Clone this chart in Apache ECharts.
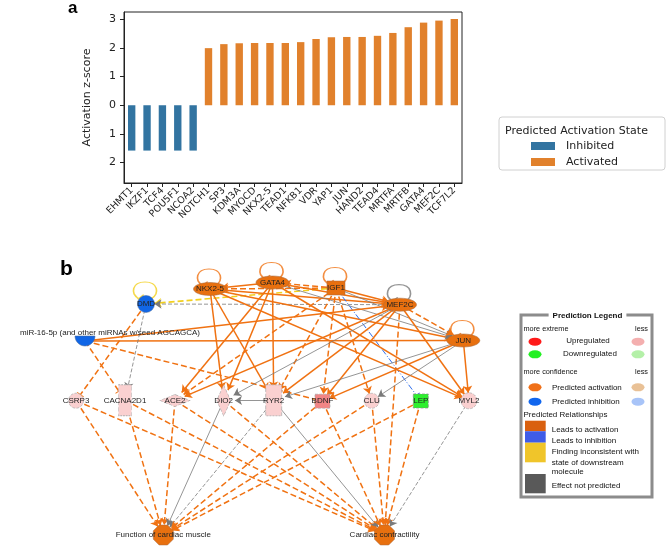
<!DOCTYPE html>
<html><head><meta charset="utf-8">
<script src="https://cdn.jsdelivr.net/npm/echarts@6/dist/echarts.min.js"></script>
<style>html,body{margin:0;padding:0;background:#fff}#c{width:669px;height:546px}</style>
</head><body><div id="c"></div>
<script>
// ---------- Panel a data ----------
const categories = ['EHMT1','IKZF1','TCF4','POU5F1','NCOA2','NOTCH1','SP3','KDM3A','MYOCD','NKX2-5','TEAD1','NFKB1','VDR','YAP1','JUN','HAND2','TEAD4','MRTFA','MRTFB','GATA4','MEF2C','TCF7L2'];
const zScores = [-1.58,-1.58,-1.58,-1.58,-1.58,1.99,2.13,2.16,2.17,2.17,2.17,2.20,2.31,2.37,2.38,2.38,2.42,2.52,2.72,2.88,2.95,3.01];
const yTickValues = [-2,-1,0,1,2,3];
const yTickLabels = ['2','1','0','1','2','3'];
const legendStates = ['Inhibited','Activated'];

// ---------- Panel b data (network layout) ----------
const nodeIds = ['NKX2-5','GATA4','IGF1','MEF2C','JUN','DMD','miR','CSRP3','CACNA2D1','ACE2','DIO2','RYR2','BDNF','CLU','LEP','MYL2','FCM','CC'];
const nodeLabels = ['NKX2-5','GATA4','IGF1','MEF2C','JUN','DMD','miR-16-5p (and other miRNAs w/seed AGCAGCA)','CSRP3','CACNA2D1','ACE2','DIO2','RYR2','BDNF','CLU','LEP','MYL2','Function of cardiac muscle','Cardiac contractility'];
const nodeX = [210,272.5,336,400,463.3,146,85,76,125,175,223.7,273.7,322.5,371.7,420.8,469,163.3,384.5];
const nodeY = [289,282.5,288,304.7,340.5,304,341,400.7,400.3,400.5,400.5,400.3,401.2,400.8,401,400.8,535,535];
const nodeShape = ['ellipse','ellipse','block','ellipse','ellipse','dmd','halfDisk','circle','tallRect','wideDiamond','tallDiamond','tallRect2','square','circle','square','circleL','octagon','octagon'];
const nodeState = ['activated','activated','activated','activated','activated','inhibited','inhibited','up','up','up','up','up','upStrong','up','down','up','activated','activated'];
const edges = [
  ['GATA4','NKX2-5','a'],['IGF1','NKX2-5','ad'],['IGF1','GATA4','ad'],['IGF1','DMD','y'],['MEF2C','DMD','gd'],
  ['NKX2-5','MEF2C','a'],['GATA4','MEF2C','a'],['IGF1','MEF2C','a'],['NKX2-5','JUN','a'],['GATA4','JUN','g'],
  ['IGF1','JUN','g'],['MEF2C','JUN','ad'],['IGF1','LEP','b'],['miR','JUN','is'],['miR','MEF2C','a'],
  ['DMD','CSRP3','i'],['DMD','CACNA2D1','gd'],['miR','CACNA2D1','i'],['miR','BDNF','i'],
  ['NKX2-5','DIO2','a'],['NKX2-5','RYR2','a'],['NKX2-5','MYL2','a'],
  ['GATA4','ACE2','a'],['GATA4','DIO2','a'],['GATA4','RYR2','a'],['GATA4','MYL2','a'],
  ['IGF1','ACE2','ad'],['IGF1','RYR2','ad'],['IGF1','BDNF','ad'],['IGF1','CLU','ad'],
  ['MEF2C','ACE2','a'],['MEF2C','DIO2','g'],['MEF2C','RYR2','a'],['MEF2C','BDNF','a'],['MEF2C','MYL2','a'],['MEF2C','CC','ad'],
  ['JUN','RYR2','g'],['JUN','CLU','g'],['JUN','BDNF','a'],['JUN','MYL2','a'],['RYR2','DIO2','g'],
  ['CSRP3','FCM','ad'],['CACNA2D1','FCM','ad'],['ACE2','FCM','ad'],['DIO2','FCM','g'],['RYR2','FCM','gd'],
  ['BDNF','FCM','ad'],['CLU','FCM','ad'],['LEP','FCM','ad'],
  ['CSRP3','CC','ad'],['CACNA2D1','CC','ad'],['ACE2','CC','ad'],['DIO2','CC','ad'],['RYR2','CC','g'],
  ['BDNF','CC','ad'],['CLU','CC','ad'],['LEP','CC','ad'],['MYL2','CC','gd']
];
const selfLoops = ['NKX2-5','GATA4','IGF1','MEF2C','JUN','DMD'];
const selfLoopTypes = ['a','a','a','g','a','y'];

// ---------- styles ----------
const FONT = 'DejaVu Sans';
const NFONT = 'Liberation Sans';
const ORANGE = '#F07212';
const ELLIPSE = 'path://M0,5 C0,2.2385 4.477,0 10,0 C15.523,0 20,2.2385 20,5 C20,7.7615 15.523,10 10,10 C4.477,10 0,7.7615 0,5 Z';
const HALF = 'path://M0,0 L20,0 C20,5.523 15.523,10 10,10 C4.477,10 0,5.523 0,0 Z';
const OCT = 'path://M29,0 L71,0 L100,29 L100,71 L71,100 L29,100 L0,71 L0,29 Z';
const LOOP = 'path://M5,18 C-1,13 0,1 10,1 C20,1 21,13 15,18 M1.5,13 L5,18.5 L9,14';
const BAR = 'path://M0,44 L100,44 L100,56 L0,56 Z M0,0 L0.01,0 L0.01,0.01 Z M0,100 L0.01,100 L0.01,99.99 Z';
const shapeStyle = {
  ellipse:{symbol:ELLIPSE,size:[33,13]}, block:{symbol:'rect',size:[18,14]}, dmd:{symbol:'circle',size:[17,17]},
  halfDisk:{symbol:HALF,size:[20,10]}, circle:{symbol:'circle',size:[15,15]}, circleL:{symbol:'circle',size:[16,16]},
  tallRect:{symbol:'rect',size:[13,31]}, tallRect2:{symbol:'rect',size:[16,31]},
  wideDiamond:{symbol:'diamond',size:[30,12]}, tallDiamond:{symbol:'diamond',size:[14,31]},
  square:{symbol:'rect',size:[15,14]}, octagon:{symbol:OCT,size:[20,20]}
};
const stateStyle = {
  activated:{color:'#E8700F',borderColor:'#a86a40',borderWidth:0.5,borderType:'solid'},
  inhibited:{color:'#1166E6',borderColor:'#4a6a9a',borderWidth:0.5,borderType:'solid'},
  up:{color:'#FAD0D0',borderColor:'#aaaaaa',borderWidth:0.7,borderType:'dashed'},
  upStrong:{color:'#F28585',borderColor:'#aaaaaa',borderWidth:0.7,borderType:'dashed'},
  down:{color:'#2EF02E',borderColor:'#888888',borderWidth:0.7,borderType:'dashed'}
};
const edgeStyle = {
  a:{color:ORANGE,width:1.5,type:'solid',end:'arrow'},
  ad:{color:ORANGE,width:1.5,type:[6,3],end:'arrow'},
  g:{color:'#7a7a7a',width:0.8,type:'solid',end:'arrow'},
  gd:{color:'#7a7a7a',width:0.8,type:[4,2],end:'arrow'},
  y:{color:'#F2D01E',width:1.6,type:[6,3],end:'arrow'},
  b:{color:'#2F6EEB',width:1,type:[6,2,1,2],end:BAR},
  i:{color:ORANGE,width:1.5,type:[6,3],end:BAR},
  is:{color:ORANGE,width:1.5,type:'solid',end:BAR}
};

const graphNodes = nodeIds.map((id,i)=>{
  const sh = shapeStyle[nodeShape[i]];
  const st = stateStyle[nodeState[i]];
  const item = {id:id, name:nodeLabels[i], value:[nodeX[i],nodeY[i]], symbol:sh.symbol, symbolSize:sh.size,
    itemStyle:{color:st.color,borderColor:st.borderColor,borderWidth:st.borderWidth,borderType:st.borderType}};
  if (id==='miR') item.label = {position:'top', distance:1, offset:[25,2]};
  return item;
});
const graphLinks = edges.map(e=>{
  const s = edgeStyle[e[2]];
  return {source:e[0], target:e[1], symbol:['none',s.end], symbolSize:[4, s.end==='arrow'?7:8],
    lineStyle:{color:s.color,width:s.width,type:s.type,opacity:1,curveness:0}};
});
const loopData = selfLoops.map((id,k)=>{
  const i = nodeIds.indexOf(id);
  const sz = shapeStyle[nodeShape[i]].size;
  const s = edgeStyle[selfLoopTypes[k]];
  return {value:[nodeX[i],nodeY[i]], symbolOffset:[-1, -(sz[1]/2+5)],
    itemStyle:{color:'rgba(0,0,0,0)', borderColor:s.color, borderWidth:1.4, borderType:'solid'}};
});

// ---------- legend (Prediction Legend) graphics ----------
const g = [];
const txt = (t,x,y,opt)=>Object.assign({type:'text',z:12,style:Object.assign({text:t,x:x,y:y,font:'8px '+NFONT,fill:'#111',align:'left',verticalAlign:'middle'},opt||{})});
const ell = (x,y,c)=>({type:'circle',z:12,x:x,y:y,scaleY:0.62,shape:{cx:0,cy:0,r:6.5},style:{fill:c}});
g.push({type:'text',z:12,style:{text:'a',x:68,y:16.5,font:'bold 17px '+NFONT,fill:'#000',verticalAlign:'bottom'}});
g.push({type:'text',z:12,style:{text:'b',x:60,y:280,font:'bold 21px '+NFONT,fill:'#000',verticalAlign:'bottom'}});
g.push({type:'rect',z:5,shape:{x:499,y:117,width:166,height:53,r:3},style:{fill:'#fff',stroke:'#d0d0d0',lineWidth:1}});
g.push({type:'text',z:12,style:{text:'Predicted Activation State',x:576.5,y:131,font:'11px '+FONT,fill:'#222',align:'center',verticalAlign:'middle'}});
g.push({type:'rect',z:10,shape:{x:521,y:315,width:131,height:182},style:{fill:'#fff',stroke:'#8c8c8c',lineWidth:3}});
g.push(txt('Prediction Legend',587.5,315.5,{font:'bold 8px '+NFONT,align:'center',backgroundColor:'#fff',padding:[1,4]}));
g.push(txt('more extreme',523.5,329,{font:'7.3px '+NFONT}));
g.push(txt('less',648,329,{font:'7.3px '+NFONT,align:'right'}));
g.push(ell(535,341.7,'#FF1A1A')); g.push(ell(638,341.7,'#F4AFAF'));
g.push(txt('Upregulated',588,341,{align:'center'}));
g.push(ell(535,354.3,'#22F022')); g.push(ell(638,354.3,'#B4F0A8'));
g.push(txt('Downregulated',590,354,{align:'center'}));
g.push(txt('more confidence',523.5,371.5,{font:'7.3px '+NFONT}));
g.push(txt('less',648,371.5,{font:'7.3px '+NFONT,align:'right'}));
g.push(ell(535,387.3,'#F07018')); g.push(ell(638,387.3,'#E9C196'));
g.push(txt('Predicted activation',552,387.5));
g.push(ell(535,401.7,'#1166EE')); g.push(ell(638,401.7,'#A8C4F8'));
g.push(txt('Predicted inhibition',552,401.7));
g.push(txt('Predicted Relationships',523.5,415));
g.push({type:'rect',z:12,shape:{x:525,y:420.7,width:20.7,height:10.5},style:{fill:'#D9600F'}});
g.push({type:'rect',z:12,shape:{x:525,y:431.2,width:20.7,height:11.5},style:{fill:'#3F5CE8'}});
g.push({type:'rect',z:12,shape:{x:525,y:442.7,width:20.7,height:19.6},style:{fill:'#F0C52A'}});
g.push({type:'rect',z:12,shape:{x:525,y:474,width:20.7,height:19.3},style:{fill:'#595959'}});
g.push(txt('Leads to activation',551.7,430));
g.push(txt('Leads to inhibition',551.7,440.5));
g.push(txt('Finding inconsistent with',551.7,451.7));
g.push(txt('state of downstream',551.7,462.3));
g.push(txt('molecule',551.7,472));
g.push(txt('Effect not predicted',551.7,486));

const chart = echarts.init(document.getElementById('c'));
chart.setOption({
  animation:false,
  backgroundColor:'#fff',
  grid:[
    {left:124,top:12,width:338,height:171,show:true,borderColor:'#222',borderWidth:1,backgroundColor:'transparent',outerBoundsMode:'none'},
    {left:0,top:0,width:669,height:546,show:false,outerBoundsMode:'none'}
  ],
  xAxis:[
    {type:'category',gridIndex:0,data:categories,
     axisLine:{show:true,onZero:false,lineStyle:{color:'#222'}},
     axisTick:{show:true,alignWithLabel:true,length:4,lineStyle:{color:'#222'}},
     axisLabel:{interval:0,rotate:45,fontSize:9.5,fontFamily:FONT,color:'#222',margin:6},
     splitLine:{show:false}},
    {type:'value',gridIndex:1,min:0,max:669,show:false}
  ],
  yAxis:[
    {type:'value',gridIndex:0,min:-2.71,max:3.25,
     name:'Activation z-score',nameLocation:'middle',nameGap:31,
     nameTextStyle:{fontSize:11,fontFamily:FONT,color:'#222'},
     axisLine:{show:true,lineStyle:{color:'#222'}},
     axisTick:{show:true,length:4,customValues:yTickValues,lineStyle:{color:'#222'}},
     axisLabel:{customValues:yTickValues,fontSize:11,fontFamily:FONT,color:'#222',margin:8,
       formatter:(v)=>{const k=yTickValues.indexOf(Math.round(v));return k>=0?yTickLabels[k]:'';}},
     splitLine:{show:false}},
    {type:'value',gridIndex:1,min:0,max:546,inverse:true,show:false}
  ],
  legend:{data:legendStates,orient:'vertical',left:531,top:140,padding:0,itemWidth:24,itemHeight:8,itemGap:4,icon:'rect',
    selectedMode:false,textStyle:{fontSize:11,fontFamily:FONT,color:'#222',padding:[0,0,0,6],lineHeight:12},z:12},
  series:[
    {name:'Inhibited',type:'bar',stack:'z',xAxisIndex:0,yAxisIndex:0,barWidth:'48%',
     data:zScores.map(v=>v<0?v:null),itemStyle:{color:'#3274A1'}},
    {name:'Activated',type:'bar',stack:'z',xAxisIndex:0,yAxisIndex:0,barWidth:'48%',
     data:zScores.map(v=>v>=0?v:null),itemStyle:{color:'#E1812C'}},
    {type:'scatter',xAxisIndex:1,yAxisIndex:1,z:2,symbol:LOOP,symbolSize:[23,17],data:loopData,silent:true},
    {type:'graph',coordinateSystem:'cartesian2d',xAxisIndex:1,yAxisIndex:1,z:3,
     data:graphNodes,links:graphLinks,edgeSymbol:['none','arrow'],
     lineStyle:{opacity:1},
     label:{show:true,position:'inside',fontSize:8,fontFamily:NFONT,color:'#222'},
     emphasis:{disabled:true},silent:true}
  ],
  graphic:{elements:g}
});
</script></body></html>
